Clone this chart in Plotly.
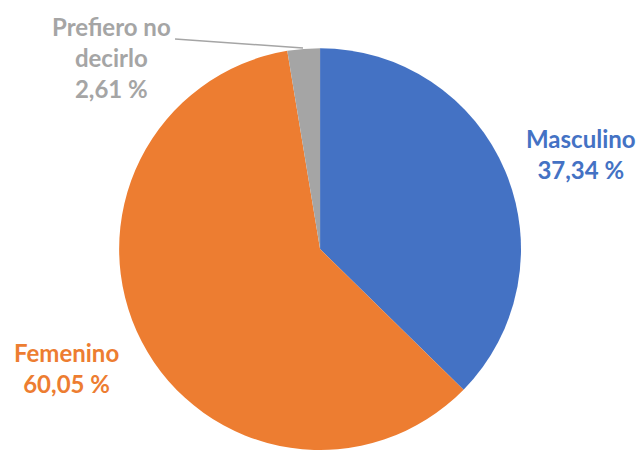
import plotly.graph_objects as go

labels = ["Masculino", "Femenino", "Prefiero no decirlo"]
values = [37.34, 60.05, 2.61]
colors = ["#4472C4", "#ED7D31", "#A5A5A5"]
label_texts = ["Masculino<br>37,34 %", "Femenino<br>60,05 %", "Prefiero no<br>decirlo<br>2,61 %"]

W, H = 644, 450

fig = go.Figure(go.Pie(
    labels=labels, values=values, sort=False, direction="clockwise", rotation=0,
    marker=dict(colors=colors, line=dict(width=0)),
    textinfo="none", hoverinfo="label+percent", showlegend=False,
    domain=dict(x=[0.15, 0.844], y=[0.0, 0.893]),
))

# (x, y, xanchor)
pos = [(638, 154, "right"), (12, 368, "left"), (111, 57, "center")]
for (px, py, xa), t, c in zip(pos, label_texts, colors):
    fig.add_annotation(x=px / W, y=1 - py / H, xref="paper", yref="paper",
                       text="<b>" + t + "</b>", showarrow=False,
                       xanchor=xa, yanchor="middle", align="center",
                       font=dict(family="Lato", size=24, color=c))

fig.add_shape(type="line", xref="paper", yref="paper",
              x0=175 / W, y0=1 - 39 / H, x1=303 / W, y1=1 - 48 / H,
              line=dict(color="#A5A5A5", width=1.5))

fig.update_layout(width=W, height=H, margin=dict(l=0, r=0, t=0, b=0),
                  paper_bgcolor="white", plot_bgcolor="white")
fig.write_html("out.html", config={"displayModeBar": False},
               post_script="document.body.style.margin='0';")
